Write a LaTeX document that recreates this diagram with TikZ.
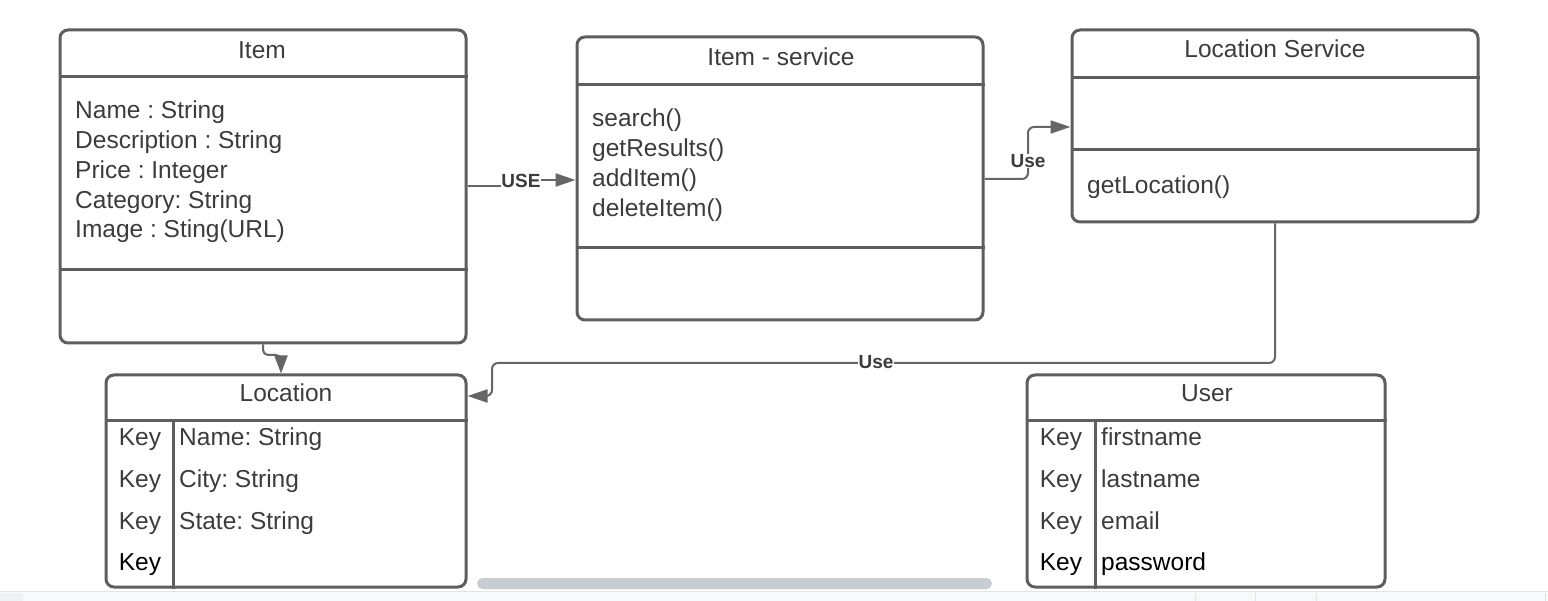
\documentclass[tikz,border=0pt]{standalone}
\usepackage{fontspec}
\setmainfont{Liberation Sans}
\usetikzlibrary{arrows.meta}
\frenchspacing
\definecolor{strokegrey}{HTML}{5E5E5E}
\definecolor{txtgrey}{HTML}{3C3C3C}
\definecolor{conngrey}{HTML}{666666}
\definecolor{chromebg}{HTML}{F8F9FA}
\definecolor{chromeline}{HTML}{E2E4E7}
\definecolor{chromesq}{HTML}{F0F1F3}
\definecolor{scrollgrey}{HTML}{C9CCD0}
\begin{document}
\begin{tikzpicture}[x=1pt,y=-1pt,
  umlbox/.style={draw=strokegrey, line width=3pt, rounded corners=8pt, rectangle, inner sep=0pt, fill=white},
  divider/.style={draw=strokegrey, line width=3pt},
  lbl/.style={font=\fontsize{24.5}{29}\selectfont\frenchspacing, text=txtgrey, inner sep=0pt},
  lblk/.style={font=\fontsize{24.5}{29}\selectfont\frenchspacing, text=black, inner sep=0pt},
  link/.style={draw=conngrey, line width=2pt, rounded corners=6pt},
  tip/.style={-{Triangle[length=20pt,width=13pt]}},
  linklabel/.style={font=\fontsize{19}{22}\selectfont\bfseries, text=txtgrey, fill=white, inner sep=0.5pt},
]
\useasboundingbox (0,0) rectangle (1548,601);
\fill[white] (0,0) rectangle (1548,601);

% ---------- boxes ----------
\node[umlbox, minimum width=406pt, minimum height=313pt] (item) at (263,186.5) {};
\node[umlbox, minimum width=406pt, minimum height=283pt] (itemsvc) at (780,178.5) {};
\node[umlbox, minimum width=406pt, minimum height=192pt] (locsvc) at (1275,126) {};
\node[umlbox, minimum width=360pt, minimum height=212pt] (location) at (286,481) {};
\node[umlbox, minimum width=358pt, minimum height=212pt] (user) at (1206,481) {};

% ---------- Item ----------
\draw[divider] (item.west |- 0,77) -- (item.east |- 0,77);
\draw[divider] (item.west |- 0,270) -- (item.east |- 0,270);
\node[lbl, anchor=base] (itemT) at (262,59) {Item};
\node[lbl, anchor=base west] (itemA1) at (75,119) {Name : String};
\node[lbl, anchor=base west] (itemA2) at (75,149) {Description : String};
\node[lbl, anchor=base west] (itemA3) at (75,179) {Price : Integer};
\node[lbl, anchor=base west] (itemA4) at (75,209) {Category: String};
\node[lbl, anchor=base west] (itemA5) at (75,238) {Image : Sting(URL)};

% ---------- Item - service ----------
\draw[divider] (itemsvc.west |- 0,85) -- (itemsvc.east |- 0,85);
\draw[divider] (itemsvc.west |- 0,248) -- (itemsvc.east |- 0,248);
\node[lbl, anchor=base] (svcT) at (781,66) {Item - service};
\node[lbl, anchor=base west] (svcM1) at (592,127) {search()};
\node[lbl, anchor=base west] (svcM2) at (592,157) {getResults()};
\node[lbl, anchor=base west] (svcM3) at (592,187) {addItem()};
\node[lbl, anchor=base west] (svcM4) at (592,217) {deleteItem()};

% ---------- Location Service ----------
\draw[divider] (locsvc.west |- 0,78) -- (locsvc.east |- 0,78);
\draw[divider] (locsvc.west |- 0,150) -- (locsvc.east |- 0,150);
\node[lbl, anchor=base] (lsT) at (1275,58) {Location Service};
\node[lbl, anchor=base west] (lsM1) at (1087,194) {getLocation()};

% ---------- Location ----------
\draw[divider] (location.west |- 0,421) -- (location.east |- 0,421);
\draw[divider] (173,421) -- (location.south -| 173,0);
\node[lbl, anchor=base] (locT) at (286,402) {Location};
\node[lbl, anchor=base] (locK1) at (140,446) {Key};
\node[lbl, anchor=base] (locK2) at (140,487) {Key};
\node[lbl, anchor=base] (locK3) at (140,529) {Key};
\node[lblk, anchor=base] (locK4) at (140,570) {Key};
\node[lbl, anchor=base west] (locF1) at (179,446) {Name: String};
\node[lbl, anchor=base west] (locF2) at (179,487) {City: String};
\node[lbl, anchor=base west] (locF3) at (179,529) {State: String};

% ---------- User ----------
\draw[divider] (user.west |- 0,421) -- (user.east |- 0,421);
\draw[divider] (1095,421) -- (user.south -| 1095,0);
\node[lbl, anchor=base] (userT) at (1207,402) {User};
\node[lbl, anchor=base] (userK1) at (1061,446) {Key};
\node[lbl, anchor=base] (userK2) at (1061,487) {Key};
\node[lbl, anchor=base] (userK3) at (1061,529) {Key};
\node[lblk, anchor=base] (userK4) at (1061,570) {Key};
\node[lbl, anchor=base west] (userF1) at (1101,446) {firstname};
\node[lbl, anchor=base west] (userF2) at (1101,487) {lastname};
\node[lbl, anchor=base west] (userF3) at (1101,529) {email};
\node[lblk, anchor=base west] (userF4) at (1101,570) {password};

% ---------- connectors ----------
% Item -> Item-service (USE)
\node[linklabel] (useA) at (521,181) {USE};
\draw[link] (item.east |- 0,186) -- (useA.west |- 0,186);
\draw[link, tip] (useA.east |- 0,180) -- (itemsvc.west |- 0,180);

% Item-service -> Location Service (Use)
\draw[link, tip] (itemsvc.east |- 0,179) -- (1028,179) -- (1028,127) -- (locsvc.west |- 0,127);
\node[linklabel] (useB) at (1028,161) {Use};

% Item -> Location
\draw[link, rounded corners=5pt, -{Triangle[length=18pt,width=13pt]}] (item.south) -- (263,355) -- (281,355) -- (location.north -| 281,0);

% Location Service -> Location (Use)
\draw[link, tip] (locsvc.south) -- (1275,363) -- (492,363) -- (492,396) -- (location.east |- 0,396);
\node[linklabel] (useC) at (876,362) {Use};

% ---------- bottom chrome ----------
\fill[chromebg] (0,591) rectangle (1548,601);
\draw[chromeline, line width=1pt] (0,591) -- (1548,591);
\fill[chromesq] (0,593) rectangle (23,601);
\foreach \xx in {1195,1255,1316,1545} {
  \draw[chromeline, line width=1pt] (\xx,593) -- (\xx,601);
}
\fill[scrollgrey, rounded corners=5.5pt] (477,578) rectangle (992,589);
\end{tikzpicture}
\end{document}
